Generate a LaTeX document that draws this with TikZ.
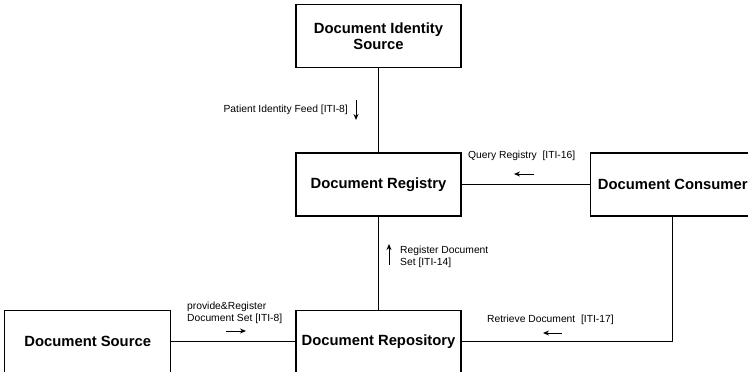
\documentclass[tikz,border=0pt]{standalone}
\usepackage{fontspec}
\setmainfont{Liberation Sans}
\usetikzlibrary{positioning,arrows.meta}
\tikzset{
  actor/.style={
    draw,
    line width=1.3pt,
    minimum width=165pt,
    minimum height=63pt,
    align=center,
    inner sep=2pt,
    font=\fontsize{14.8}{16.5}\selectfont\bfseries,
  },
  link/.style={
    line width=1.3pt,
  },
  txn/.style={
    font=\fontsize{10.3}{12}\selectfont,
    align=left,
    inner sep=0pt,
  },
  flow/.style={
    ->,
    >={Stealth[length=6pt,width=5pt]},
    line width=0.9pt,
  },
}

\begin{document}
\begin{tikzpicture}[x=1pt,y=-1pt]
		\useasboundingbox (0,0) rectangle (748,372);

		% actors
		\node[actor] (reg) at (378.5,184.5) {Document Registry};
		\node[actor, above=84pt of reg] (idsrc) {Document Identity\\Source};
		\node[actor, below=93pt of reg] (repo) {Document Repository};
		\node[actor, right=128pt of reg] (cons) {Document Consumer};
		\node[actor, left=124pt of repo, minimum width=166pt] (src) {Document Source};

		% links between actors
		\draw[link] (idsrc) -- (reg);
		\draw[link] (reg) -- (cons);
		\draw[link] (reg) -- (repo);
		\draw[link] (src) -- (repo);
		\draw[link] (cons.south) |- (repo.east);

		% transactions
		\node[txn, anchor=east] (feed) at (348,110) {Patient Identity Feed [ITI-8]};
		\draw[flow] ([xshift=8pt,yshift=10pt]feed.east) -- ++(0,20);

		\node[txn, anchor=west] (query) at (468,156) {Query Registry\ \ [ITI-16]};
		\draw[flow] (534,174) -- (514,174);

		\node[txn, anchor=north west] (regset) at (400,246) {Register Document\\Set [ITI-14]};
		\draw[flow] ([xshift=-11pt,yshift=-19pt]regset.north west) -- ++(0,-21);

		\node[txn, anchor=west] (retr) at (487,320) {Retrieve Document\ \ [ITI-17]};
		\draw[flow] (562,333) -- (543,333);

		\node[txn, anchor=north west] (prov) at (187,302) {provide\&Register\\Document Set [ITI-8]};
		\draw[flow] (226,331) -- (246,331);

	\end{tikzpicture}
\end{document}
